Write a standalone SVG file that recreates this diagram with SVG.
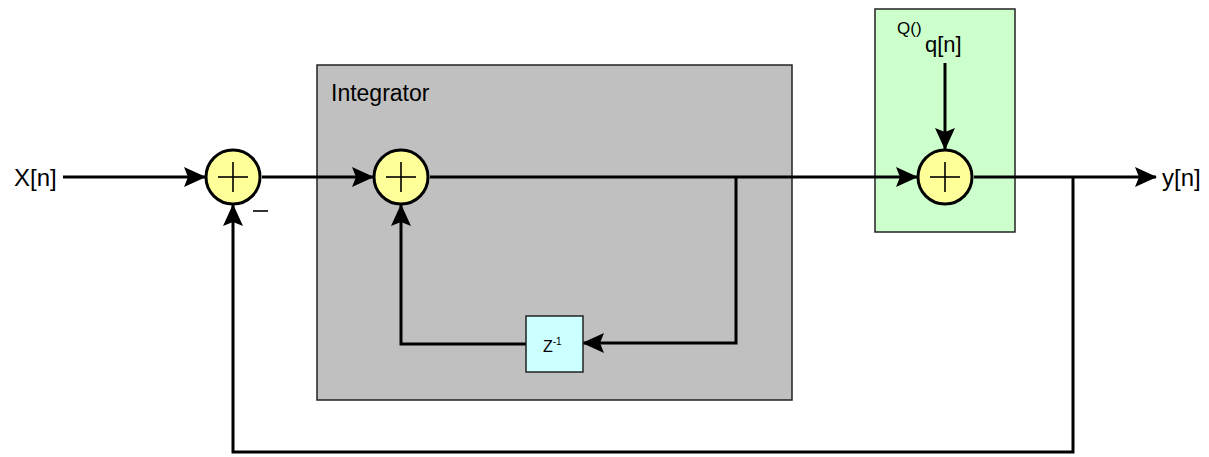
<svg xmlns="http://www.w3.org/2000/svg" width="1209" height="457" viewBox="0 0 1209 457">
  <style>
    .lbl { font-family: "Liberation Sans", Arial, sans-serif; fill: #000; }
    .wire { fill: none; stroke: #000; stroke-width: 3; }
    .sum { fill: #ffff99; stroke: #000; stroke-width: 3; }
    .plus { stroke: #000; stroke-width: 1.6; }
    .box { stroke: #222; stroke-width: 1.5; }
  </style>
  <defs>
    <marker id="arrow" markerUnits="userSpaceOnUse" viewBox="0 0 22 20" refX="21" refY="10" markerWidth="22" markerHeight="20" orient="auto">
      <path d="M0,0 L22,10 L0,20 L4,10 z" fill="#000"/>
    </marker>
    <g id="adder">
      <circle r="27" class="sum"/>
      <line x1="-15" y1="0" x2="15" y2="0" class="plus"/>
      <line x1="0" y1="-15" x2="0" y2="15" class="plus"/>
    </g>
  </defs>

  <rect width="1209" height="457" fill="#fff"/>

  <!-- integrator block -->
  <g id="integrator">
    <rect x="317" y="65" width="475" height="335" fill="#c0c0c0" class="box"/>
    <text x="331" y="101" font-size="23" class="lbl">Integrator</text>
  </g>

  <!-- quantizer block -->
  <g id="quantizer">
    <rect x="875" y="9" width="140" height="223" fill="#ccffcc" class="box"/>
    <text x="897" y="34" font-size="17" class="lbl">Q()</text>
    <text x="925" y="52" font-size="22" class="lbl">q[n]</text>
  </g>

  <!-- connectors -->
  <g id="connectors">
    <path class="wire" d="M63,177 H205" marker-end="url(#arrow)"/>
    <path class="wire" d="M262,177 H373" marker-end="url(#arrow)"/>
    <path class="wire" d="M430,177 H917" marker-end="url(#arrow)"/>
    <path class="wire" d="M974,177 H1156" marker-end="url(#arrow)"/>
    <path class="wire" d="M736,177 V343 H583" marker-end="url(#arrow)"/>
    <path class="wire" d="M526,344 H401 V205" marker-end="url(#arrow)"/>
    <path class="wire" d="M1073,177 V452 H233 V205" marker-end="url(#arrow)"/>
    <path class="wire" d="M945,63 V149" marker-end="url(#arrow)"/>
  </g>

  <!-- adders -->
  <g id="sum-input">
    <use href="#adder" x="233" y="177"/>
    <line x1="253" y1="211" x2="268" y2="211" stroke="#000" stroke-width="1.6"/>
  </g>
  <g id="sum-integrator">
    <use href="#adder" x="401" y="177"/>
  </g>
  <g id="sum-quantizer">
    <use href="#adder" x="945" y="177"/>
  </g>

  <!-- unit delay -->
  <g id="delay">
    <rect x="526" y="316" width="57" height="56" fill="#ccffff" class="box"/>
    <text x="543" y="352" font-size="16" class="lbl">Z<tspan font-size="10" dy="-7">-1</tspan></text>
  </g>

  <!-- signal labels -->
  <g id="input-label">
    <text x="14" y="186" font-size="24" class="lbl">X[n]</text>
  </g>
  <g id="output-label">
    <text x="1162" y="186" font-size="24" class="lbl">y[n]</text>
  </g>
</svg>
